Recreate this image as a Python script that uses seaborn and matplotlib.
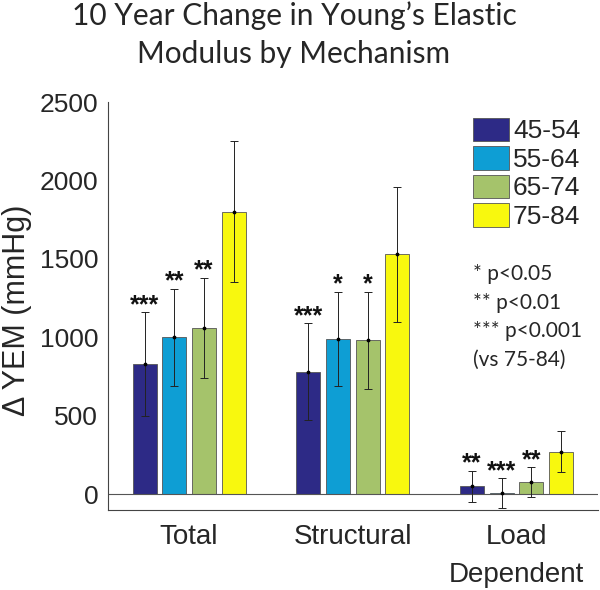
import matplotlib
matplotlib.use("Agg")
import matplotlib.pyplot as plt
import seaborn as sns
import pandas as pd
import numpy as np

mechanisms = ["Total", "Structural", "Load\nDependent"]
age_groups = ["45-54", "55-64", "65-74", "75-84"]
vals_45 = [830, 780, 50]
vals_55 = [1000, 990, 5]
vals_65 = [1060, 980, 75]
vals_75 = [1800, 1530, 270]
err_45 = [330, 310, 100]
err_55 = [310, 300, 95]
err_65 = [320, 310, 95]
err_75 = [450, 430, 130]
sig_45 = ["***", "***", "**"]
sig_55 = ["**", "*", "***"]
sig_65 = ["**", "*", "**"]
sig_75 = ["", "", ""]
colors = ["#2D2A86", "#0E9ED4", "#A5C36B", "#F8F80E"]
yticks = [0, 500, 1000, 1500, 2000, 2500]
note_lines = ["* p<0.05", "** p<0.01", "*** p<0.001", "(vs 75-84)"]

vals = [vals_45, vals_55, vals_65, vals_75]
errs = [err_45, err_55, err_65, err_75]
sigs = [sig_45, sig_55, sig_65, sig_75]

rows = []
for g, v, e, s in zip(age_groups, vals, errs, sigs):
    for m, vv, ee, ss in zip(mechanisms, v, e, s):
        rows.append(dict(Mechanism=m, Age=g, YEM=vv, err=ee, sig=ss))
df = pd.DataFrame(rows)

sns.set_theme(style="white")
plt.rcParams["font.family"] = ["Liberation Sans", "DejaVu Sans"]

fig = plt.figure(figsize=(6.0, 5.9), dpi=100)
ax = fig.add_axes([0.18, 0.136, 0.817, 0.691])

sns.barplot(data=df, x="Mechanism", y="YEM", hue="Age", order=mechanisms,
            hue_order=age_groups, palette=colors, width=0.725, gap=0.19,
            errorbar=None, edgecolor="#555555", linewidth=0.6, ax=ax,
            saturation=1)

for container, g in zip(ax.containers, age_groups):
    sub = df[df.Age == g].set_index("Mechanism").loc[mechanisms]
    xs = [p.get_x() + p.get_width() / 2 for p in container.patches]
    ax.errorbar(xs, sub.YEM.values, yerr=sub.err.values, fmt="none",
                ecolor="#222222", elinewidth=0.7, capsize=3, capthick=0.7,
                zorder=5)
    ax.scatter(xs, sub.YEM.values, s=3, color="black", zorder=6)
    for x, y, e, s in zip(xs, sub.YEM.values, sub.err.values, sub.sig.values):
        if s:
            ax.text(x, y + e, s, ha="center", va="baseline",
                    fontsize=18, fontweight="bold", color="#111111")

ax.axhline(0, color="#555555", lw=0.8, zorder=1)
ax.set_ylim(-100, 2500)
ax.set_xlim(-0.495, 2.5)
ax.set_yticks(yticks)
ax.set_yticklabels([str(t) for t in yticks], fontsize=19)
ax.set_xticks(range(len(mechanisms)))
ax.set_xticklabels(mechanisms, fontsize=20, linespacing=1.6)
ax.tick_params(axis="both", direction="in", length=3, width=0.6, color="#333333", pad=7)
ax.tick_params(axis="x", pad=10)
for sp in ["top", "right"]:
    ax.spines[sp].set_visible(False)
for sp in ["left", "bottom"]:
    ax.spines[sp].set_color("#444444")
    ax.spines[sp].set_linewidth(0.8)
ax.set_xlabel("")
ax.set_ylabel("Δ YEM (mmHg)", fontsize=22)
ax.yaxis.set_label_coords(-0.155, 0.49)

leg = ax.legend(loc="upper left", bbox_to_anchor=(0.745, 0.962), frameon=False,
                fontsize=19, handlelength=1.36, handleheight=1.0,
                handletextpad=0.15, labelspacing=0.1, borderaxespad=0,
                borderpad=0)

for i, line in enumerate(note_lines):
    ax.text(0.745, 0.578 - i * 0.07, line, transform=ax.transAxes,
            fontsize=15, family=["Lato", "DejaVu Sans"], ha="left", va="center")

fig.text(0.49, 0.998, "10 Year Change in Young’s Elastic\nModulus by Mechanism",
         ha="center", va="top", fontsize=21.5, family=["Lato", "DejaVu Sans"],
         linespacing=1.45)

fig.savefig("out.png", dpi=100, facecolor="white")
